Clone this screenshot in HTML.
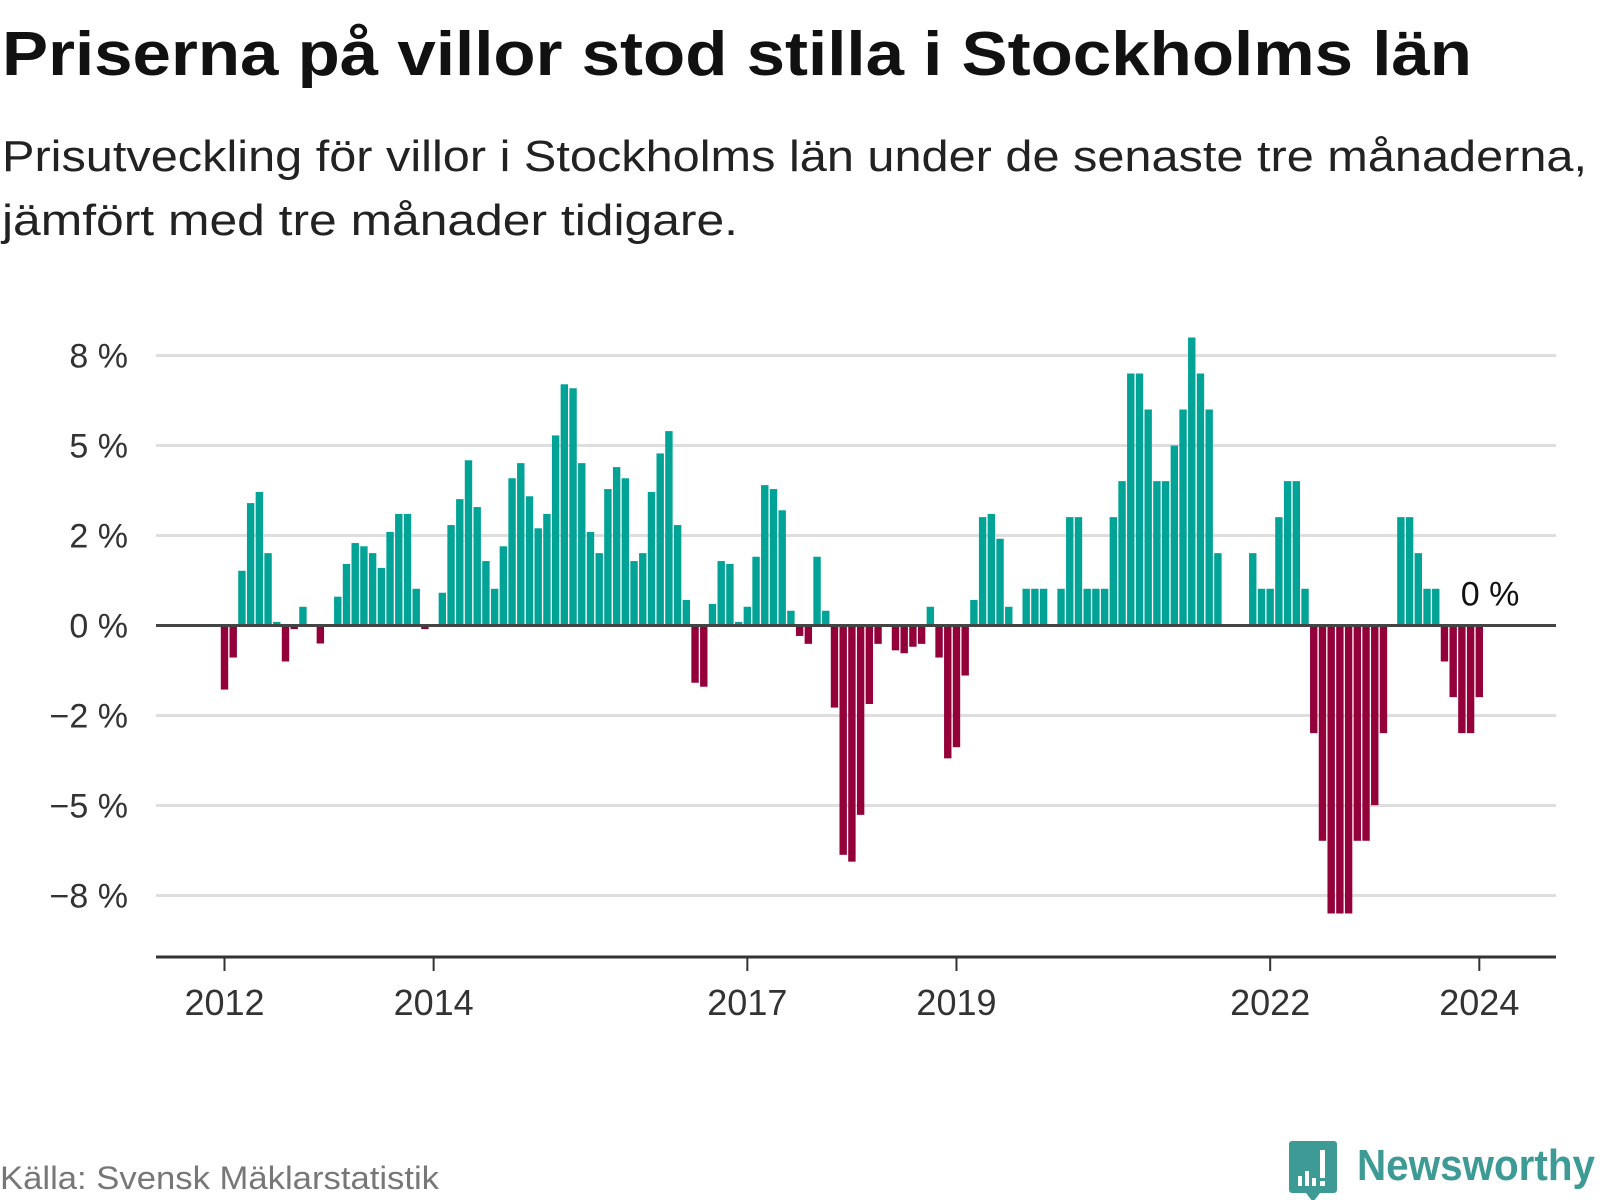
<!DOCTYPE html>
<html><head><meta charset="utf-8"><style>
html,body{margin:0;padding:0;background:#fff;}
svg{display:block;font-family:"Liberation Sans",sans-serif;}
</style></head><body>
<svg id="chart" width="1600" height="1200" viewBox="0 0 1600 1200" xmlns="http://www.w3.org/2000/svg">
<text x="2" y="75" font-size="62" font-weight="bold" fill="#111" textLength="1470" lengthAdjust="spacingAndGlyphs">Priserna på villor stod stilla i Stockholms län</text>
<text x="2" y="171" font-size="44" fill="#222" textLength="1585" lengthAdjust="spacingAndGlyphs">Prisutveckling för villor i Stockholms län under de senaste tre månaderna,</text>
<text x="2" y="235" font-size="44" fill="#222" textLength="736" lengthAdjust="spacingAndGlyphs">jämfört med tre månader tidigare.</text>
<g id="grid"></g>
<g id="ylabels"></g>
<g id="bars"></g>
<line x1="156" x2="1556" y1="625.5" y2="625.5" stroke="#444" stroke-width="3"/>
<line x1="156" x2="1556" y1="957" y2="957" stroke="#333" stroke-width="3"/>
<g id="xticks"></g>
<text id="lastlabel" font-size="34" fill="#111" text-anchor="middle"></text>
<text x="0" y="1189" font-size="32" fill="#777" textLength="439" lengthAdjust="spacingAndGlyphs">Källa: Svensk Mäklarstatistik</text>
<g>
<path d="M1292 1141 h42 a3 3 0 0 1 3 3 v46 a3 3 0 0 1 -3 3 h-14 l-7 9 l-7 -9 h-14 a3 3 0 0 1 -3 -3 v-46 a3 3 0 0 1 3 -3z" fill="#3d9a94"/>
<rect x="1298" y="1176" width="4" height="10" fill="#fff"/><rect x="1305" y="1171" width="4" height="15" fill="#fff"/><rect x="1312" y="1178" width="4" height="8" fill="#fff"/><rect x="1320" y="1150" width="5" height="28" fill="#fff"/><rect x="1320" y="1181" width="5" height="5" fill="#fff"/>
<text x="1357" y="1180" font-size="44" font-weight="bold" fill="#3d9a94" textLength="238" lengthAdjust="spacingAndGlyphs">Newsworthy</text>
</g>
</svg>
<script>
const values = [-1.78,-0.89,1.52,3.40,3.71,2.01,0.1,-1.0,-0.1,0.52,0,-0.5,
0,0.8,1.71,2.29,2.2,2.01,1.6,2.6,3.1,3.1,1.02,-0.1,
0,0.91,2.79,3.51,4.59,3.29,1.79,1.02,2.2,4.09,4.51,3.59,
2.7,3.1,5.28,6.70,6.59,4.51,2.6,2.01,3.79,4.40,4.09,1.79,
2.01,3.71,4.78,5.40,2.79,0.71,-1.59,-1.70,0.6,1.79,1.71,0.1,
0.52,1.91,3.9,3.79,3.2,0.41,-0.29,-0.51,1.91,0.41,-2.28,-6.37,
-6.56,-5.26,-2.18,-0.51,0,-0.69,-0.77,-0.59,-0.51,0.52,-0.89,-3.69,
-3.38,-1.39,0.71,3.01,3.1,2.41,0.52,0,1.02,1.02,1.02,0,
1.02,3.01,3.01,1.02,1.02,1.02,3.01,4.01,7.0,7.0,6.0,4.01,
4.01,5.0,6.0,8.0,7.0,6.0,2.01,0,0,0,2.01,1.02,
1.02,3.01,4.01,4.01,1.02,-2.99,-5.98,-8.0,-8.0,-8.0,-5.98,-5.98,
-4.99,-2.99,0,3.01,3.01,2.01,1.02,1.02,-1.0,-1.99,-2.99,-2.99,
-1.99,0];
const yTicks = [7.5,5,2.5,0,-2.5,-5,-7.5];
const yTickLabels = ["8 %","5 %","2 %","0 %","−2 %","−5 %","−8 %"];
const xTickYears = [2012,2014,2017,2019,2022,2024];
const startYear = 2012;
const NS="http://www.w3.org/2000/svg";
const y0=625.5, pxPer=36;
function yScale(v){return y0 - v*pxPer;}
function xScale(i){return 224.5 + i*8.714;}
const grid=document.getElementById('grid'), yl=document.getElementById('ylabels');
yTicks.forEach((t,k)=>{
  const l=document.createElementNS(NS,'line');
  
  
  l.setAttribute('x1',156);l.setAttribute('x2',1556);
  l.setAttribute('y1',yScale(t));l.setAttribute('y2',yScale(t));
  l.setAttribute('stroke','#dedede');l.setAttribute('stroke-width',3);
  grid.appendChild(l);
  const tx=document.createElementNS(NS,'text');
  
  
  tx.setAttribute('x',128);tx.setAttribute('y',yScale(t)+12);
  tx.setAttribute('text-anchor','end');tx.setAttribute('font-size',34);tx.setAttribute('fill','#333');
  tx.textContent=yTickLabels[k];
  yl.appendChild(tx);
});
const bars=document.getElementById('bars');
values.forEach((v,i)=>{
  if(v===0) return;
  const r=document.createElementNS(NS,'rect');
  
  
  r.setAttribute('x',xScale(i)-3.7);r.setAttribute('width',7.4);
  r.setAttribute('y',Math.min(yScale(v),y0));r.setAttribute('height',Math.abs(yScale(v)-y0));
  r.setAttribute('fill',v>0?'#00a396':'#93003a');
  bars.appendChild(r);
});
const xt=document.getElementById('xticks');
xTickYears.forEach(yr=>{
  const x=xScale((yr-startYear)*12);
  const l=document.createElementNS(NS,'line');
  
  
  l.setAttribute('x1',x);l.setAttribute('x2',x);l.setAttribute('y1',958);l.setAttribute('y2',971);
  l.setAttribute('stroke','#333');l.setAttribute('stroke-width',2);
  xt.appendChild(l);
  const tx=document.createElementNS(NS,'text');
  
  
  tx.setAttribute('x',x);tx.setAttribute('y',1015);tx.setAttribute('text-anchor','middle');
  tx.setAttribute('font-size',36);tx.setAttribute('fill','#333');
  tx.textContent=yr;
  xt.appendChild(tx);
});
const last=values.length-1, ll=document.getElementById('lastlabel');
ll.setAttribute('x',xScale(last)+2);
ll.setAttribute('y',Math.min(yScale(values[last]),y0)-20);
ll.textContent=Math.round(values[last])+' %';
</script>
</body></html>
